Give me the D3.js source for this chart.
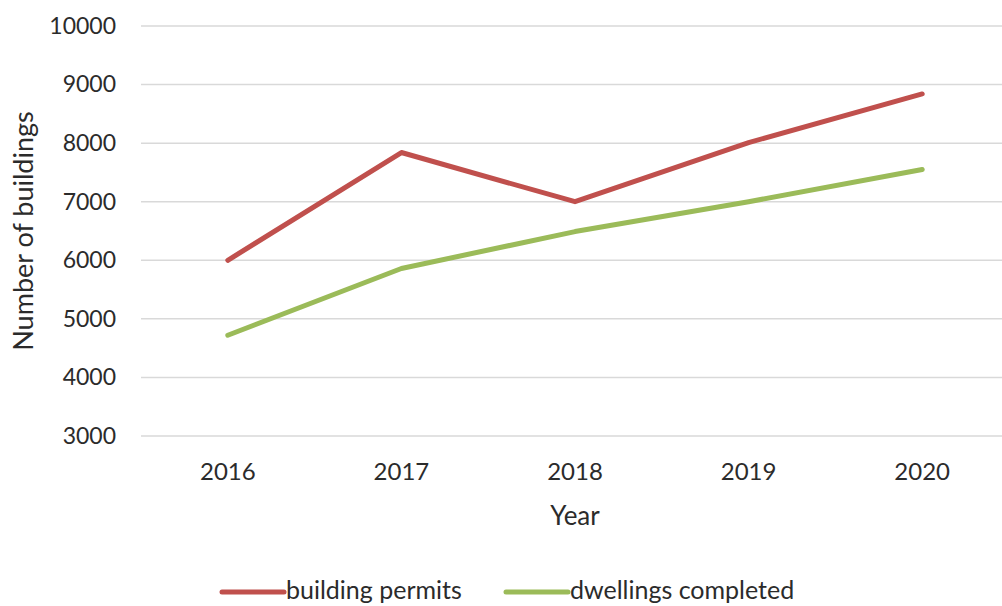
<!DOCTYPE html>
<html>
<head>
<meta charset="utf-8">
<script src="https://cdn.jsdelivr.net/npm/d3@7"></script>
<style>
  html, body { margin: 0; padding: 0; background: #fff; }
  svg { display: block; font-family: Lato, "Open Sans", sans-serif; }
</style>
</head>
<body>
<svg id="chart" width="1002" height="606"></svg>
<script>
// Yearly counts of building permits and completed dwellings
const years = ["2016", "2017", "2018", "2019", "2020"];
const buildingPermits = [6000, 7840, 7000, 8010, 8840];
const dwellingsCompleted = [4720, 5860, 6490, 7000, 7550];
const yTicks = [3000, 4000, 5000, 6000, 7000, 8000, 9000, 10000];
const seriesNames = ["building permits", "dwellings completed"];
const seriesColors = ["#C0504D", "#9BBB59"];

const svg = d3.select("#chart");
const textColor = "#2b2b2b";

const x = d3.scaleBand().domain(years).range([141, 1009]);
const y = d3.scaleLinear().domain([3000, 10000]).range([436, 26]);

// horizontal gridlines
svg.append("g")
  .selectAll("line")
  .data(yTicks)
  .join("line")
  .attr("x1", 141).attr("x2", 1002)
  .attr("y1", d => y(d)).attr("y2", d => y(d))
  .attr("stroke", "#d9d9d9").attr("stroke-width", 1.5);

// y axis labels
const yAxis = svg.append("g")
  .attr("transform", "translate(116,0)")
  .call(d3.axisLeft(y).tickValues(yTicks).tickSize(0).tickPadding(0).tickFormat(d3.format("d")));
yAxis.select(".domain").remove();
yAxis.selectAll("text")
  .attr("fill", textColor).attr("font-size", 23).attr("font-family", "Lato, sans-serif");

// x axis labels
const xAxis = svg.append("g")
  .attr("transform", "translate(0,463)")
  .call(d3.axisBottom(x).tickSize(0).tickPadding(0));
xAxis.select(".domain").remove();
xAxis.selectAll("text")
  .attr("fill", textColor).attr("font-size", 24).attr("font-family", "Lato, sans-serif");

// axis titles
svg.append("text")
  .attr("x", 575).attr("y", 525)
  .attr("text-anchor", "middle")
  .attr("fill", textColor).attr("font-size", 26)
  .text("Year");

svg.append("text")
  .attr("transform", "translate(33,231) rotate(-90)")
  .attr("text-anchor", "middle")
  .attr("fill", textColor).attr("font-size", 27)
  .text("Number of buildings");

// series lines
const line = d3.line()
  .x((d, i) => x(years[i]) + x.bandwidth() / 2)
  .y(d => y(d));

[buildingPermits, dwellingsCompleted].forEach((vals, k) => {
  svg.append("path")
    .datum(vals)
    .attr("d", line)
    .attr("fill", "none")
    .attr("stroke", seriesColors[k])
    .attr("stroke-width", 5)
    .attr("stroke-linejoin", "round")
    .attr("stroke-linecap", "round");
});

// legend
const legendItems = [{x: 222}, {x: 506}];
legendItems.forEach((it, k) => {
  const g = svg.append("g").attr("transform", `translate(${it.x},592)`);
  g.append("line")
    .attr("x1", 0).attr("x2", 62).attr("y1", 0).attr("y2", 0)
    .attr("stroke", seriesColors[k]).attr("stroke-width", 5)
    .attr("stroke-linecap", "round");
  g.append("text")
    .attr("x", 64).attr("y", 7)
    .attr("fill", textColor).attr("font-size", 25)
    .text(seriesNames[k]);
});
</script>
</body>
</html>
